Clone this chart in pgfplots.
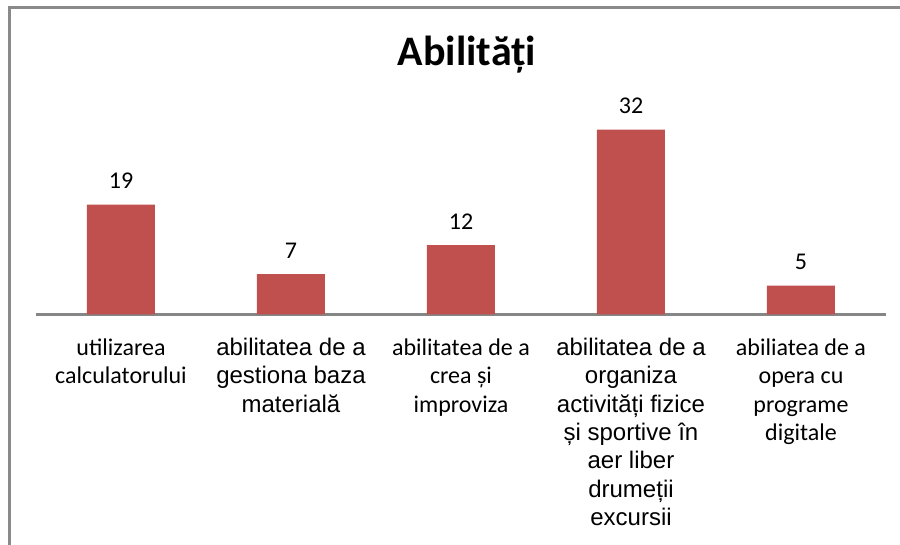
\documentclass[border=0pt]{standalone}
\usepackage{fontspec}
\usepackage{pgfplots}
\pgfplotsset{compat=1.18}
\newfontfamily\carlito{Carlito}
\newfontfamily\arialf{Liberation Sans}
\definecolor{barred}{RGB}{192,80,77}
\definecolor{framegray}{RGB}{138,138,138}
\definecolor{basegray}{RGB}{134,134,134}
\begin{document}
\begin{tikzpicture}
\useasboundingbox (0,0) rectangle (450pt,272.5pt);
\draw[framegray, line width=1.5pt] (4.75pt,-1pt) -- (4.75pt,268.75pt) -- (451pt,268.75pt);
\node[font={\fontsize{21}{25}\selectfont\carlito\bfseries}, anchor=base, inner sep=0pt] at (233.5pt,239.5pt) {Abilități};
\begin{axis}[
  at={(18pt,115.25pt)}, anchor=south west,
  scale only axis,
  width=425pt, height=101.15pt,
  xmin=-0.5, xmax=4.5, ymin=0, ymax=35,
  clip=false,
  axis x line=bottom, axis y line=none,
  x axis line style={-, draw=basegray, line width=1.35pt},
  xtick={0,1,2,3,4},
  xtick style={draw=none},
  major tick length=0pt,
  ytick=\empty,
  /pgf/number format/assume math mode=true,
  xticklabels={
    {\strut utilizarea\\calculatorului},
    {\arialf\strut abilitatea de a\\\arialf gestiona baza\\\arialf materială},
    {\strut abilitatea de a\\crea și\\improviza},
    {\arialf\strut abilitatea de a\\\arialf organiza\\\arialf activități fizice\\\arialf și sportive în\\\arialf aer liber\\\arialf drumeții\\\arialf excursii},
    {\strut abiliatea de a\\opera cu\\programe\\digitale}
  },
  xticklabel style={anchor=north, inner sep=0pt, yshift=-10.3pt, align=center,
    font={\fontsize{12}{14.2}\selectfont\carlito}},
  ybar, bar width=34pt,
  nodes near coords,
  every node near coord/.append style={font={\fontsize{12}{14}\selectfont\carlito}, anchor=base, inner sep=0pt, yshift=8pt},
]
\addplot[fill=barred, draw=none] coordinates {(0,19) (1,7) (2,12) (3,32) (4,5)};
\end{axis}
\end{tikzpicture}
\end{document}
